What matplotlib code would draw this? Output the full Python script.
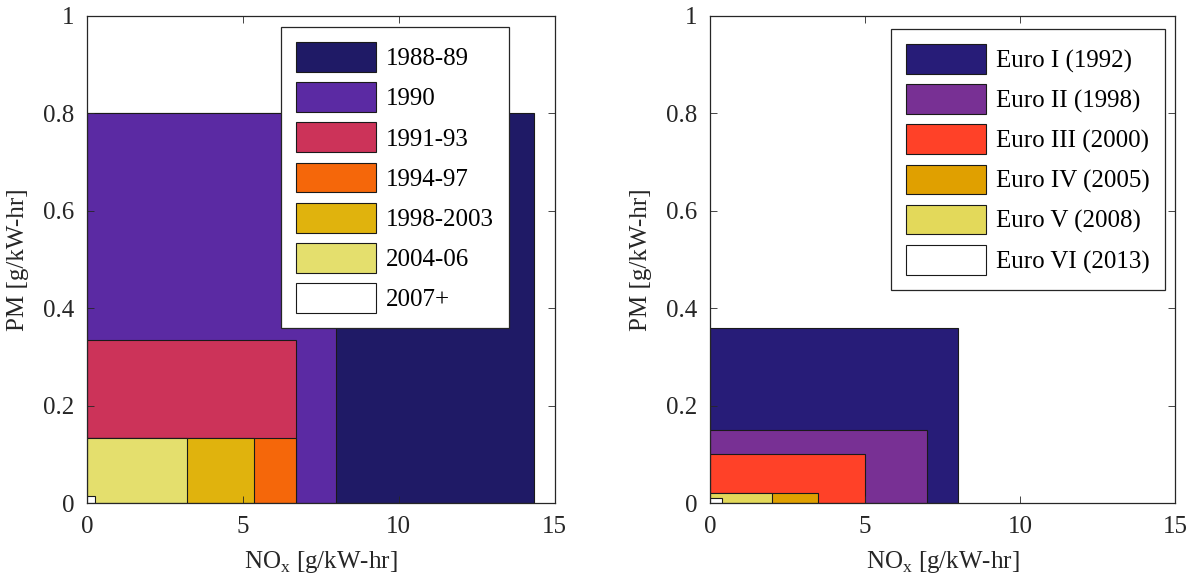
import matplotlib
matplotlib.use("Agg")
import matplotlib.pyplot as plt

plt.rcParams['font.family'] = ['Liberation Serif', 'DejaVu Serif']
plt.rcParams['mathtext.fontset'] = 'custom'
plt.rcParams['mathtext.rm'] = 'Liberation Serif'

# US heavy-duty standards (g/kW-hr)
us_labels = ['1988-89', '1990', '1991-93', '1994-97', '1998-2003', '2004-06', '2007+']
us_nox = [14.35, 8.0, 6.7, 6.7, 5.36, 3.2, 0.27]
us_pm = [0.80, 0.80, 0.335, 0.134, 0.134, 0.134, 0.0134]
us_colors = ['#1f1a66', '#5b2aa3', '#cc3359', '#f5670a', '#e0b30d', '#e4df6d', '#ffffff']

# Euro standards
eu_labels = ['Euro I (1992)', 'Euro II (1998)', 'Euro III (2000)', 'Euro IV (2005)',
             'Euro V (2008)', 'Euro VI (2013)']
eu_nox = [8.0, 7.0, 5.0, 3.5, 2.0, 0.4]
eu_pm = [0.36, 0.15, 0.10, 0.02, 0.02, 0.01]
eu_colors = ['#271c78', '#783094', '#ff4128', '#e0a000', '#e3d95a', '#ffffff']

x_ticks = [0, 5, 10, 15]
y_ticks = [0, 0.2, 0.4, 0.6, 0.8, 1]
y_ticklabels = ['0', '0.2', '0.4', '0.6', '0.8', '1']

fig = plt.figure(figsize=(11.93, 5.82), dpi=100)
ax1 = fig.add_axes([0.0729, 0.1357, 0.392, 0.837])
ax2 = fig.add_axes([0.595, 0.1357, 0.39, 0.837])


def draw(ax, labels, nox, pm, colors, anchor):
    for lab, w, h, c in zip(labels, nox, pm, colors):
        ax.bar(0, h, width=w, align='edge', color=c, edgecolor='#1a1a1a',
               linewidth=0.8, label=lab)
    ax.set_xlim(0, 15)
    ax.set_ylim(0, 1)
    ax.set_xticks(x_ticks)
    ax.set_yticks(y_ticks)
    ax.set_yticklabels(y_ticklabels)
    ax.tick_params(direction='in', top=True, right=True, labelsize=18,
                   length=5, width=0.6, colors='#262626', pad=9)
    for s in ax.spines.values():
        s.set_color('#262626')
        s.set_linewidth(0.9)
    ax.set_xlabel('NO$_\\mathregular{x}$ [g/kW-hr]', fontsize=18, color='#262626',
                  labelpad=8)
    ax.set_ylabel('PM [g/kW-hr]', fontsize=18, color='#262626', labelpad=10)
    leg = ax.legend(loc='upper right', bbox_to_anchor=anchor, fontsize=18,
                    handlelength=3.2, handleheight=1.45, labelspacing=0.42,
                    handletextpad=0.4, borderpad=0.6, borderaxespad=0,
                    fancybox=False, framealpha=1)
    leg.get_frame().set_edgecolor('#262626')
    leg.get_frame().set_linewidth(0.9)


draw(ax1, us_labels, us_nox, us_pm, us_colors, (0.902, 0.977))
draw(ax2, eu_labels, eu_nox, eu_pm, eu_colors, (0.978, 0.973))

fig.savefig('out.png', dpi=100)
